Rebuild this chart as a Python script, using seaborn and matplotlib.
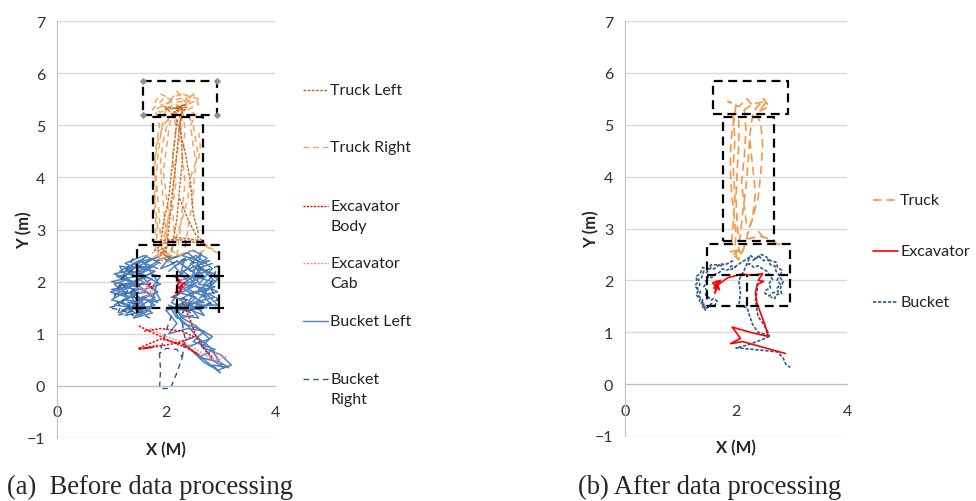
import numpy as np
import pandas as pd
import matplotlib
matplotlib.use("Agg")
import matplotlib.pyplot as plt
from matplotlib.lines import Line2D
import seaborn as sns

# ---------------- data (metres) ----------------
# (a) before processing
truck_left_a = [
    [(2.0, 2.55), (2.05, 3.0), (2.1, 3.5), (2.15, 4.0), (2.2, 4.5), (2.25, 5.0), (2.3, 5.3), (2.2, 5.35), (2.35, 5.4), (2.15, 5.3)],
    [(2.1, 2.6), (2.2, 3.2), (2.25, 3.8), (2.3, 4.3), (2.28, 4.8), (2.25, 5.2), (2.35, 5.3), (2.0, 5.35), (2.2, 5.1),
     (2.15, 4.6), (2.1, 4.1), (2.05, 3.6), (1.95, 3.1), (1.9, 2.7)],
    [(1.8, 2.75), (2.0, 2.8), (2.3, 2.8), (2.55, 2.75), (2.75, 2.7), (2.55, 2.8), (2.2, 2.85), (1.9, 2.7), (1.75, 2.55)],
    [(2.25, 3.6), (2.4, 3.2), (2.55, 2.9), (2.7, 2.75)],
    [(2.2, 5.1), (2.35, 4.5), (2.45, 3.9), (2.5, 3.3), (2.6, 2.9)],
    [(2.0, 5.3), (2.3, 5.35), (2.15, 5.25), (2.4, 5.35)],
    [(1.9, 2.5), (2.0, 2.65), (1.85, 2.6), (2.05, 2.45), (1.95, 2.55)],
]
truck_right_a = [
    [(1.85, 2.5), (1.9, 2.8), (1.88, 3.2), (1.85, 3.6), (1.82, 4.0), (1.85, 4.4), (1.9, 4.8), (1.95, 5.1), (2.0, 5.35),
     (1.8, 5.45), (1.9, 5.6), (2.1, 5.5), (2.2, 5.65), (2.35, 5.45), (2.5, 5.6), (2.6, 5.4), (2.4, 5.3), (2.55, 5.2),
     (2.45, 5.0), (2.5, 4.6), (2.55, 4.3), (2.45, 4.0), (2.4, 3.6), (2.3, 3.2), (2.2, 2.9), (2.1, 2.6), (2.0, 2.45)],
    [(1.95, 2.55), (2.0, 2.9), (2.05, 3.3), (2.0, 3.7), (1.95, 4.1), (2.0, 4.5), (2.05, 4.9), (2.1, 5.2), (2.25, 5.35),
     (2.0, 5.55), (1.75, 5.3), (1.9, 5.25), (2.15, 5.4), (2.3, 5.2), (2.25, 4.8), (2.2, 4.4), (2.15, 4.0), (2.1, 3.6),
     (2.05, 3.2), (1.95, 2.8), (1.9, 2.55), (2.1, 2.6), (2.25, 2.5), (2.4, 2.6), (2.6, 2.55), (2.8, 2.65), (3.0, 2.55)],
    [(2.2, 2.5), (2.25, 2.9), (2.3, 3.4), (2.35, 3.9), (2.3, 4.4), (2.35, 4.9), (2.3, 5.3), (2.45, 5.55), (2.2, 5.5),
     (1.95, 5.4), (2.05, 5.15), (1.95, 4.7), (1.9, 4.3), (1.92, 3.9), (1.95, 3.5), (1.98, 3.1), (2.05, 2.7)],
    [(1.8, 2.6), (1.85, 3.0), (1.8, 3.5), (1.78, 3.9), (1.8, 4.3), (1.85, 4.7), (1.95, 5.0), (2.15, 5.25), (2.4, 5.4),
     (2.6, 5.5), (2.3, 5.6)],
    [(2.6, 4.35), (2.63, 4.6), (2.6, 4.85)],
    [(2.4, 2.75), (2.55, 2.85), (2.7, 2.7), (2.85, 2.6), (3.05, 2.5)],
    [(1.75, 2.45), (1.9, 2.55), (1.85, 2.4), (2.05, 2.5), (1.95, 2.6), (2.15, 2.45), (2.0, 2.35), (1.8, 2.5)],
    [(1.78, 2.7), (1.82, 3.1), (1.78, 3.4), (1.82, 3.8), (1.78, 4.2), (1.82, 4.6), (1.88, 5.0), (1.8, 5.3), (2.1, 5.45),
     (2.45, 5.45)],
    [(2.1, 2.55), (2.15, 2.95), (2.12, 3.4), (2.18, 3.9), (2.12, 4.4), (2.18, 4.9), (2.15, 5.2), (2.45, 5.45),
     (2.25, 5.6), (2.05, 5.45)],
    [(2.35, 2.65), (2.4, 3.0), (2.48, 3.5), (2.52, 4.0), (2.58, 4.5), (2.5, 5.0), (2.4, 5.2)],
]
exc_body_a = [
    [(1.5, 1.15), (1.8, 1.0), (2.1, 0.85), (2.4, 0.72), (2.6, 0.6), (2.3, 0.8), (1.9, 0.9), (1.5, 0.72), (1.8, 0.75),
     (2.2, 0.82), (2.5, 0.95), (2.3, 1.05), (1.9, 1.1), (1.6, 1.05)],
    [(1.5, 0.7), (1.75, 0.74), (1.6, 0.72), (1.85, 0.78)],
    [(2.15, 1.7), (2.25, 2.05), (2.2, 1.85), (2.35, 2.0), (2.22, 1.75), (2.3, 1.95), (2.18, 2.1), (2.28, 1.8)],
    [(2.3, 1.6), (2.45, 1.25), (2.55, 0.95), (2.7, 0.7), (2.85, 0.55)],
    [(1.68, 1.95), (1.75, 1.85), (1.7, 2.0)],
]
exc_cab_a = [
    [(1.55, 1.8), (1.7, 1.95), (1.6, 2.0), (1.75, 1.75), (1.5, 1.9), (1.65, 1.7), (1.8, 1.9)],
    [(2.25, 1.8), (2.4, 1.95), (2.3, 2.05)],
    [(1.7, 1.1), (2.0, 0.95), (2.4, 0.8), (2.7, 0.6), (2.95, 0.5), (3.1, 0.55), (2.9, 0.65), (3.0, 0.45), (2.75, 0.55)],
]
bucket_left_a = [
    [(1.7, 2.4), (1.3, 2.2), (1.05, 2.15), (1.4, 2.0), (1.1, 1.9), (1.5, 1.85), (1.2, 1.75), (1.6, 1.65), (1.3, 1.6),
     (1.7, 1.5), (1.45, 1.45), (1.8, 1.55), (1.55, 1.7), (1.85, 1.8), (1.5, 2.05), (1.8, 2.2), (1.35, 2.3), (1.6, 2.45),
     (1.2, 2.05), (1.55, 1.95), (1.0, 1.85), (1.45, 1.75), (1.15, 1.6), (1.6, 1.4), (1.4, 1.6), (1.75, 1.75),
     (1.35, 1.95), (1.65, 2.1), (1.25, 2.25), (1.75, 2.3), (1.5, 2.15), (1.7, 1.95), (1.2, 1.95), (1.4, 1.85),
     (1.6, 1.55), (1.3, 1.5), (1.5, 1.35), (1.7, 1.45), (1.85, 2.0), (1.6, 2.35), (1.9, 2.5)],
    [(1.85, 2.25), (1.5, 2.4), (1.15, 2.2), (1.45, 2.1), (1.0, 2.0), (1.35, 1.9), (1.05, 1.75), (1.5, 1.8), (1.25, 1.65),
     (1.55, 1.6), (1.2, 1.45), (1.6, 1.5), (1.4, 1.3), (1.75, 1.4), (1.55, 1.55), (1.8, 1.7), (1.45, 1.9), (1.75, 2.05),
     (1.3, 2.15), (1.65, 2.25), (1.4, 2.35), (1.8, 2.45)],
    [(1.9, 2.35), (1.6, 2.5), (1.25, 2.35), (1.55, 2.2), (1.1, 2.1), (1.45, 1.95), (0.98, 1.8), (1.3, 1.7), (1.05, 1.55),
     (1.4, 1.5), (1.25, 1.35), (1.65, 1.45), (1.5, 1.7), (1.85, 1.6), (1.6, 1.85), (1.9, 1.95), (1.55, 2.15), (1.85, 2.35)],
    [(1.65, 2.5), (1.4, 2.25), (1.15, 2.3), (1.3, 2.05), (1.05, 1.95), (1.25, 1.8), (1.0, 1.65), (1.35, 1.55),
     (1.15, 1.4), (1.45, 1.55), (1.35, 1.75), (1.65, 1.8), (1.4, 2.0), (1.7, 2.15), (1.9, 2.1), (1.75, 1.9), (1.9, 1.65),
     (1.7, 1.6)],
    [(1.7, 2.3), (1.95, 2.45), (2.15, 2.35), (1.9, 2.25), (2.1, 2.5), (1.8, 2.4)],
    [(2.0, 2.4), (2.4, 2.55), (2.7, 2.3), (2.5, 2.1), (2.85, 2.0), (2.6, 1.85), (2.9, 1.7), (2.5, 1.6), (2.75, 1.5),
     (2.3, 1.45), (2.55, 1.7), (2.2, 1.8), (2.6, 2.0), (2.3, 2.2), (2.8, 2.4), (2.45, 2.35), (2.7, 2.1), (2.35, 1.95),
     (2.8, 1.85), (2.4, 1.75), (2.7, 1.6), (2.2, 1.55), (2.45, 1.4), (2.1, 1.6), (2.4, 2.0), (2.15, 2.3), (2.55, 2.5),
     (2.85, 2.25), (2.6, 1.95), (2.9, 1.9), (2.5, 1.8), (2.25, 1.65), (2.65, 1.45), (2.35, 1.55), (2.0, 1.45)],
    [(2.05, 2.2), (2.35, 2.45), (2.25, 2.1), (2.65, 2.55), (2.55, 2.25), (2.9, 2.15), (2.7, 1.95), (2.95, 1.8),
     (2.65, 1.75), (2.85, 1.55), (2.45, 1.5), (2.6, 1.3), (2.3, 1.35), (2.15, 1.5), (2.4, 1.65), (2.1, 1.7), (2.5, 1.9),
     (2.2, 2.0), (2.75, 2.2)],
    [(2.1, 2.45), (2.5, 2.6), (2.75, 2.45), (2.6, 2.3), (2.95, 2.05), (2.7, 1.8), (2.95, 1.55), (2.55, 1.55),
     (2.7, 1.35), (2.35, 1.5), (2.5, 1.75), (2.25, 1.9), (2.55, 2.15), (2.2, 2.4), (2.45, 2.2), (2.85, 2.35)],
    [(2.3, 2.5), (2.6, 2.4), (2.45, 2.05), (2.75, 1.7), (2.4, 1.85), (2.65, 2.25), (2.9, 2.0), (2.55, 1.6),
     (2.25, 1.45), (2.05, 1.55), (2.2, 1.3), (2.5, 1.35)],
    [(2.0, 1.45), (2.2, 1.2), (2.05, 1.0), (2.4, 1.1), (2.7, 1.05), (2.5, 0.85), (2.9, 0.7), (2.6, 0.55), (3.0, 0.45),
     (3.15, 0.35), (2.85, 0.4), (3.0, 0.25), (2.7, 0.5), (2.4, 0.75), (2.8, 0.9), (2.55, 1.15), (2.3, 1.3), (2.15, 1.5)],
    [(2.15, 1.45), (2.3, 1.2), (2.6, 1.1), (2.85, 0.95), (2.65, 0.75), (3.0, 0.6), (3.2, 0.4), (2.95, 0.3), (2.7, 0.45),
     (2.5, 0.65), (2.3, 0.85), (2.55, 0.95), (2.8, 0.75), (3.05, 0.35), (2.85, 0.5), (2.6, 0.9), (2.4, 1.15), (2.2, 1.35)],
]
bucket_right_a = [
    [(1.55, 2.3), (1.25, 2.15), (1.05, 1.7), (1.15, 1.55), (0.95, 1.5), (1.2, 1.45), (1.4, 1.35), (1.3, 1.55),
     (1.5, 1.6), (1.35, 1.8), (1.6, 2.0)],
    [(1.4, 2.45), (1.15, 2.0), (1.3, 1.85), (1.1, 1.35), (1.45, 1.45), (1.7, 1.3)],
    [(2.1, 2.35), (2.4, 2.45), (2.7, 2.2), (2.95, 2.3), (2.8, 1.9), (2.95, 1.65), (2.6, 1.5), (2.3, 1.4), (2.45, 1.6),
     (2.2, 1.75)],
    [(2.1, 1.35), (2.0, 1.05), (1.88, 0.62), (1.9, 0.3), (1.88, -0.05), (2.08, -0.05), (2.2, 0.25), (2.3, 0.55),
     (2.2, 0.7), (2.0, 0.72), (1.88, 0.62)],
    [(2.3, 0.55), (2.35, 0.9), (2.3, 1.2)],
]
box_corners_top_a = [(1.58, 5.85), (2.93, 5.85), (1.58, 5.2), (2.93, 5.2)]
box_corners_low_a = [(1.47, 2.1), (2.2, 2.1), (2.97, 2.1), (1.47, 1.5), (2.2, 1.5), (2.97, 1.5)]

# (b) after processing
truck_b = [
    [(2.02, 2.42), (1.98, 2.6), (2.0, 2.9), (1.96, 3.3), (1.92, 3.7), (1.9, 4.1), (1.9, 4.5), (1.93, 4.9), (1.98, 5.2),
     (2.0, 5.4), (1.85, 5.45), (2.05, 5.35), (2.2, 5.5), (2.35, 5.3), (2.5, 5.5), (2.6, 5.35), (2.4, 5.25)],
    [(2.3, 5.2), (2.25, 4.8), (2.22, 4.3), (2.18, 3.8), (2.12, 3.3), (2.08, 2.9), (2.05, 2.6), (2.1, 2.5)],
    [(2.12, 2.55), (2.2, 2.85), (2.3, 3.2), (2.4, 3.6), (2.45, 4.1), (2.48, 4.6), (2.45, 5.0), (2.38, 5.2),
     (2.55, 5.45), (2.3, 5.4), (2.1, 5.25)],
    [(2.05, 5.1), (2.05, 4.6), (2.02, 4.1), (2.0, 3.6), (2.02, 3.1), (2.05, 2.75)],
    [(2.2, 2.8), (2.45, 2.85), (2.6, 2.8), (2.75, 2.7), (2.85, 2.65)],
    [(2.4, 2.95), (2.55, 2.75), (2.7, 2.75), (2.8, 2.7)],
    [(1.95, 2.5), (2.1, 2.6), (1.9, 2.55), (2.05, 2.4), (2.15, 2.65)],
    [(2.25, 4.7), (2.3, 4.2), (2.35, 3.7), (2.3, 3.2), (2.2, 2.9)],
    [(1.95, 5.2), (1.98, 4.7), (1.95, 4.2), (1.98, 3.6), (1.95, 3.1), (1.92, 2.7)],
    [(2.15, 5.3), (2.18, 4.9), (2.15, 4.4), (2.1, 3.9), (2.15, 3.4), (2.2, 3.0)],
]
excavator_b = [
    [(1.60, 1.85), (1.72, 2.0), (1.58, 1.95), (1.70, 1.82), (1.65, 1.98), (1.62, 1.75), (1.68, 1.92), (1.85, 2.05),
     (2.1, 2.12), (2.3, 2.10), (2.48, 2.13), (2.40, 2.0), (2.50, 1.98), (2.38, 1.92), (2.35, 1.75), (2.38, 1.55),
     (2.45, 1.35), (2.52, 1.15), (2.58, 0.92), (2.25, 1.0), (1.93, 1.10), (2.0, 1.0), (2.08, 0.88), (1.90, 0.78),
     (2.12, 0.82), (2.89, 0.59)],
]
bucket_b = [
    [(1.95, 2.38), (1.8, 2.3), (1.72, 2.32), (1.6, 2.22), (1.55, 2.25), (1.47, 2.15), (1.42, 2.18), (1.38, 2.05),
     (1.32, 2.02), (1.35, 1.92), (1.30, 1.85), (1.36, 1.78), (1.33, 1.7), (1.40, 1.62), (1.38, 1.55), (1.45, 1.52),
     (1.43, 1.45), (1.50, 1.48), (1.55, 1.55), (1.62, 1.52), (1.66, 1.6), (1.60, 1.65), (1.55, 1.62), (1.50, 1.68),
     (1.45, 1.72), (1.48, 1.8), (1.42, 1.88), (1.47, 1.95), (1.45, 2.02), (1.52, 2.08), (1.56, 2.05), (1.62, 2.12),
     (1.70, 2.15), (1.75, 2.22), (1.85, 2.2), (1.92, 2.28), (2.0, 2.25)],
    [(1.75, 2.28), (1.65, 2.3), (1.55, 2.3), (1.5, 2.22), (1.4, 2.25), (1.35, 2.12), (1.28, 2.08), (1.3, 1.95),
     (1.26, 1.9), (1.32, 1.8), (1.28, 1.72), (1.35, 1.65), (1.34, 1.58), (1.42, 1.56), (1.4, 1.48), (1.46, 1.42)],
    [(2.25, 2.48), (2.35, 2.42), (2.42, 2.46), (2.5, 2.38), (2.58, 2.4), (2.62, 2.3), (2.7, 2.28), (2.72, 2.18),
     (2.78, 2.1), (2.74, 2.0), (2.8, 1.92), (2.74, 1.85), (2.76, 1.78), (2.66, 1.76), (2.6, 1.7), (2.52, 1.75),
     (2.55, 1.82), (2.62, 1.85), (2.6, 1.95), (2.66, 2.02), (2.6, 2.1), (2.55, 2.18), (2.48, 2.22), (2.4, 2.28),
     (2.32, 2.25), (2.25, 2.32), (2.18, 2.3)],
    [(2.3, 2.38), (2.45, 2.5), (2.55, 2.45), (2.62, 2.38), (2.72, 2.35), (2.75, 2.25), (2.82, 2.2), (2.8, 2.05),
     (2.85, 1.98), (2.8, 1.85), (2.82, 1.75), (2.72, 1.72), (2.7, 1.65), (2.62, 1.68)],
    [(1.9, 2.2), (2.1, 2.35), (2.25, 2.45), (2.15, 2.2), (2.05, 2.0), (2.08, 1.75), (2.05, 1.5), (2.2, 1.48),
     (2.25, 1.3), (2.3, 1.15), (2.4, 1.0), (2.55, 0.95), (2.62, 0.93), (2.45, 0.85), (2.2, 0.75), (2.0, 0.7),
     (2.2, 0.68), (2.5, 0.65), (2.75, 0.62), (2.85, 0.5), (2.9, 0.38), (2.98, 0.32)],
    [(2.4, 1.95), (2.35, 1.6), (2.4, 1.3), (2.5, 1.15), (2.6, 0.95)],
]

# zone outlines: outer rectangles, plus the split lines of the loading zone
zones_x0 = [1.58, 1.76, 1.47]
zones_x1 = [2.93, 2.68, 2.97]
zones_y0 = [5.2, 2.76, 1.5]
zones_y1 = [5.85, 5.15, 2.7]
split_lines = [[(1.47, 2.1), (2.97, 2.1)], [(2.2, 1.5), (2.2, 2.1)]]

W, H = 976, 502


def to_frame(segs):
    rows = []
    for k, seg in enumerate(segs):
        for x, y in seg:
            rows.append((x, y, k))
    return pd.DataFrame(rows, columns=["x", "y", "seg"])


def draw(ax, segs, color, ls, lw=1.0):
    sns.lineplot(data=to_frame(segs), x="x", y="y", units="seg", estimator=None, sort=False,
                 color=color, linestyle=ls, linewidth=lw, legend=False, ax=ax)


def zone_segs():
    segs = []
    for x0, x1, y0, y1 in zip(zones_x0, zones_x1, zones_y0, zones_y1):
        segs.append([(x0, y0), (x1, y0), (x1, y1), (x0, y1), (x0, y0)])
    return segs + split_lines


def style_axes(ax):
    ax.set_xlim(0, 4)
    ax.set_ylim(-1, 7)
    ax.set_xticks([0, 2, 4])
    ax.set_yticks(range(-1, 8))
    ax.yaxis.grid(True, color="#D9D9D9", linewidth=1.0)
    ax.xaxis.grid(False)
    ax.set_axisbelow(True)
    for s in ["top", "right"]:
        ax.spines[s].set_visible(False)
    ax.spines["bottom"].set_position(("data", 0))
    ax.spines["bottom"].set_color("#BFBFBF")
    ax.spines["left"].set_color("#BFBFBF")
    ax.tick_params(axis="both", length=5, color="#BFBFBF", labelsize=11.5, labelcolor="#333333")
    ax.tick_params(axis="x", pad=9)
    ax.set_xlabel("X (M)", fontsize=12, fontweight="bold")
    ax.set_ylabel("Y (m)", fontsize=12, fontweight="bold")
    ax.xaxis.set_label_coords(0.5, -0.008)
    ax.yaxis.set_label_coords(-0.115, 0.5)
    ax.patch.set_alpha(0)


def legend_entry(x_px, y_px, label, color, ls, lw=1.0):
    x0, x1 = x_px / W, (x_px + 25) / W
    y = 1 - y_px / H
    fig.add_artist(Line2D([x0, x1], [y, y], color=color, linestyle=ls, linewidth=lw, transform=fig.transFigure))
    for i, line in enumerate(label.split("\n")):
        fig.text((x_px + 27) / W, 1 - (y_px + 20 * i) / H, line, fontsize=11.5, va="center", ha="left",
                 color="#222222")


sns.set_style("white")
plt.rcParams["font.family"] = ["Lato", "DejaVu Sans"]

fig = plt.figure(figsize=(W / 100, H / 100), dpi=100)

ax_a = fig.add_axes([57 / W, 1 - 439 / H, 218 / W, 417 / H])
ax_b = fig.add_axes([625 / W, 1 - 437 / H, 222 / W, 415 / H])

c_tl, c_tr = "#C8691E", "#F5A460"
c_eb, c_ec = "#FF0000", "#E8949B"
c_bl, c_br = "#4F81BD", "#2F5A8C"
ls_tl, ls_tr = (0, (2, 1)), (0, (4, 3))
ls_dot = (0, (1.5, 1))
ls_br = (0, (4, 3))
zone_ls = (0, (4, 2.5))

# panel (a)
draw(ax_a, bucket_left_a, c_bl, "-", 1.1)
draw(ax_a, bucket_right_a, c_br, ls_br, 1.0)
draw(ax_a, truck_right_a, c_tr, ls_tr, 1.1)
draw(ax_a, truck_left_a, c_tl, ls_tl, 1.0)
draw(ax_a, exc_cab_a, c_ec, ls_dot, 1.0)
draw(ax_a, exc_body_a, c_eb, ls_dot, 1.1)
draw(ax_a, zone_segs(), "black", zone_ls, 1.6)
tc = pd.DataFrame(box_corners_top_a, columns=["x", "y"])
sns.scatterplot(data=tc, x="x", y="y", marker="D", s=12, color="#8E8CA8", edgecolor="#8E8CA8", ax=ax_a, zorder=5)
lc = pd.DataFrame(box_corners_low_a, columns=["x", "y"])
sns.scatterplot(data=lc, x="x", y="y", marker="+", s=45, color="black", linewidth=1.6, ax=ax_a, zorder=5)
style_axes(ax_a)

# panel (b)
c_tb, c_xb, c_bb = "#F79646", "#FF0000", "#2F5A8C"
ls_tb, ls_bb = (0, (5, 3)), (0, (2, 1))
draw(ax_b, bucket_b, c_bb, ls_bb, 1.2)
draw(ax_b, truck_b, c_tb, ls_tb, 1.2)
draw(ax_b, excavator_b, c_xb, "-", 1.2)
draw(ax_b, zone_segs(), "black", zone_ls, 1.6)
style_axes(ax_b)

# legends
leg_a = [("Truck Left", c_tl, ls_tl, 91), ("Truck Right", c_tr, ls_tr, 148),
         ("Excavator\nBody", c_eb, ls_dot, 207), ("Excavator\nCab", c_ec, ls_dot, 264),
         ("Bucket Left", c_bl, "-", 322), ("Bucket\nRight", c_br, ls_br, 380)]
for lab, col, ls, yp in leg_a:
    legend_entry(303, yp, lab, col, ls)
leg_b = [("Truck", c_tb, ls_tb, 201), ("Excavator", c_xb, "-", 252), ("Bucket", c_bb, ls_bb, 303)]
for lab, col, ls, yp in leg_b:
    legend_entry(873, yp, lab, col, ls, 1.2)

# captions
fig.text(7 / W, 1 - 487 / H, "(a)  Before data processing", fontsize=19.2, family="Liberation Serif",
         va="center", ha="left")
fig.text(578 / W, 1 - 487 / H, "(b) After data processing", fontsize=19.2, family="Liberation Serif",
         va="center", ha="left")

fig.savefig("out.png", dpi=100)
